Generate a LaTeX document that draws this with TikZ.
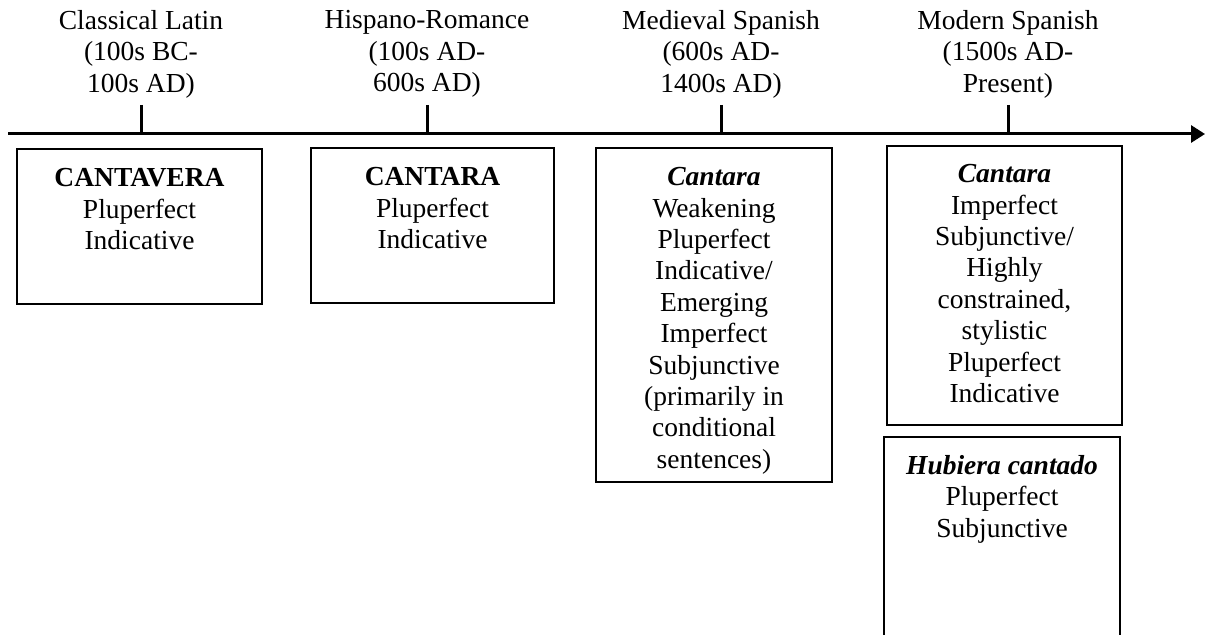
\documentclass[tikz,border=0pt]{standalone}
\usepackage{fontspec}
\setmainfont{Liberation Serif}
\usetikzlibrary{arrows.meta,positioning}

\tikzset{
  period/.style = {align=center,
                   inner sep=0pt,
                   font=\fontsize{13.75}{15.7}\selectfont},
  formbox/.style = {rectangle,
                    draw,
                    line width=1pt},
  formtext/.style = {align=center,
                     inner sep=0pt,
                     font=\fontsize{13.75}{15.7}\selectfont}
}

\begin{document}
\begin{tikzpicture}[x=0.5pt,y=-0.5pt,line width=1.5pt,
                    >={Triangle[length=7pt,width=8.5pt]}]

    \clip (0,0) rectangle (1209,635);

    % time axis
    \coordinate (start) at (8,134);
    \coordinate (end) at (1205,134);
    \draw[->] (start) -- (end);

    % periods above the axis
    \node[period, anchor=north] (latin) at (141,9)
        {Classical Latin\\(100s BC-\\100s AD)};
    \coordinate (latintick) at (141,105);

    \node[period, anchor=north] (hisp) at (427,9)
        {Hispano-Romance\\(100s AD-\\600s AD)};
    \coordinate (hisptick) at (427,105);

    \node[period, anchor=north] (medieval) at (721,9)
        {Medieval Spanish\\(600s AD-\\1400s AD)};
    \coordinate (medievaltick) at (721,105);

    \node[period, anchor=north] (modern) at (1008,9)
        {Modern Spanish\\(1500s AD-\\Present)};
    \coordinate (moderntick) at (1008,105);

    \draw (latintick) -- (latintick |- start);
    \draw (hisptick) -- (hisptick |- start);
    \draw (medievaltick) -- (medievaltick |- start);
    \draw (moderntick) -- (moderntick |- start);

    % forms below the axis
    \node[formbox,
          minimum width = 122.5pt,
          minimum height = 77.5pt
          ] (cantavera) at (139.5,226.5) {};
    \node[formtext, below=9.5pt of cantavera.north] (cantaveratxt)
        {\textbf{CANTAVERA}\\Pluperfect\\Indicative};

    \node[formbox,
          minimum width = 121.5pt,
          minimum height = 77.5pt
          ] (cantara) at (432.5,225.5) {};
    \node[formtext, below=9.5pt of cantara.north] (cantaratxt)
        {\textbf{CANTARA}\\Pluperfect\\Indicative};

    \node[formbox,
          minimum width = 118pt,
          minimum height = 167pt
          ] (medcantara) at (714,315) {};
    \node[formtext, below=9.5pt of medcantara.north] (medcantaratxt)
        {\textbf{\textit{Cantara}}\\Weakening\\Pluperfect\\Indicative/\\Emerging\\Imperfect\\Subjunctive\\(primarily in\\conditional\\sentences)};

    \node[formbox,
          minimum width = 117.5pt,
          minimum height = 139.5pt
          ] (modcantara) at (1004.5,285.5) {};
    \node[formtext, below=9pt of modcantara.north] (modcantaratxt)
        {\textbf{\textit{Cantara}}\\Imperfect\\Subjunctive/\\Highly\\constrained,\\stylistic\\Pluperfect\\Indicative};

    \node[formbox,
          minimum width = 118pt,
          minimum height = 111.5pt
          ] (hubiera) at (1002,548.5) {};
    \node[formtext, below=9pt of hubiera.north] (hubieratxt)
        {\textbf{\textit{Hubiera cantado}}\\Pluperfect\\Subjunctive};

\end{tikzpicture}
\end{document}
